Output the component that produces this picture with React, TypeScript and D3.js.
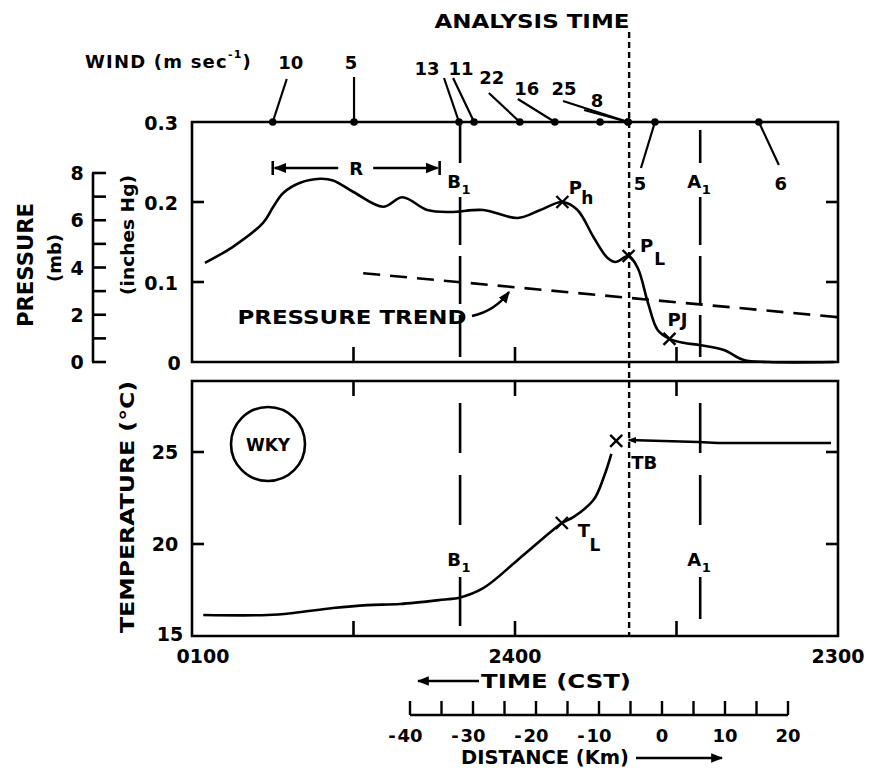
import React from 'react';
import * as d3 from 'd3';

// Time is expressed in minutes after 2300 CST; the time axis runs right (2300) to left (0100).
const timeTicks = [120, 90, 60, 30, 0];
const timeTickLabels = ['0100', '', '2400', '', '2300'];

const pressureTime = [117.6, 112.4, 106.8, 104.9, 103.1, 99.9, 96.2, 93.8, 90.0, 84.5, 80.9, 76.3, 72.0, 65.9, 59.5, 55.3, 51.2, 48.4, 45.4, 42.8, 41.3, 38.9, 37.2, 35.3, 33.5, 31.3, 28.7, 25.5, 21.2, 17.5, 13.0, 0.7];
const pressureInHg = [0.124, 0.144, 0.174, 0.194, 0.211, 0.224, 0.229, 0.227, 0.2125, 0.194, 0.206, 0.19, 0.1875, 0.19, 0.18, 0.19, 0.2, 0.19, 0.156, 0.13, 0.125, 0.1325, 0.1175, 0.074, 0.04, 0.029, 0.024, 0.021, 0.015, 0.0025, 0, 0];

const trendTime = [88.2, 0];
const trendInHg = [0.111, 0.056];

const tempTime = [117.9, 106.0, 101.2, 93.8, 87.4, 81.3, 72.6, 70.5, 65.9, 59.5, 53.4, 51.3, 49.1, 45.4, 43.5, 42.1];
const tempC = [16.14, 16.14, 16.25, 16.52, 16.68, 16.74, 17.0, 17.07, 17.6, 19.13, 20.65, 21.14, 21.47, 22.4, 23.64, 24.9];
const tbTime = [38.9, 26.0, 22.3, 1.3];
const tbTemp = [25.65, 25.54, 25.49, 25.49];

const windTime = [105.0, 89.9, 70.4, 67.6, 59.1, 52.6, 39.0, 39.0, 34.0, 14.7];
const windSpeed = [10, 5, 13, 11, 22, 16, 25, 8, 5, 6];
const windExtraTime = [44.2];

const pMarkTime = [51.2, 38.9, 31.3];
const pMarkInHg = [0.2, 0.1325, 0.029];
const pMarkName = ['P', 'P', 'PJ'];
const pMarkSub = ['h', 'L', ''];

const tMarkTime = [51.3, 41.2];
const tMarkC = [21.14, 25.6];
const tMarkName = ['T', 'TB'];
const tMarkSub = ['L', ''];

const inHgTicks = [0, 0.1, 0.2, 0.3];
const inHgLabels = ['0', '0.1', '0.2', '0.3'];
const mbTicks = [0, 1, 2, 3, 4, 5, 6, 7, 8];
const mbLabels = [0, 2, 4, 6, 8];
const tempTicks = [15, 20, 25];
const distTicks = [-40, -35, -30, -25, -20, -15, -10, -5, 0, 5, 10, 15, 20];
const distLabels = [-40, -30, -20, -10, 0, 10, 20];

const refB1 = 70.2;
const refA1 = 25.6;
const analysisTime = 38.8;
const rStart = 105.0;
const rEnd = 74.0;
const MB_TO_INHG = 0.02953;

// layout offsets for wind leaders / labels (pixels relative to dot)
const windLeader = [[14, -43], [0, -45], [-15, -44], [-21, -44], [-31, -29], [-37, -23], [-65, -21], [-44, -12], [-14, 46], [20, 43]];
const windLabelPos = [[18, -60], [-3, -60], [-32, -54], [-13, -54], [-28, -45], [-28, -34], [-64, -34], [-31, -22], [-15, 61], [22, 61]];
const pMarkLabelPos = [[[13, -15], [25, -4]], [[18, -11], [31, 3]], [[8, -19], [0, 0]]];
const tMarkLabelPos = [[[22, 7], [33, 22]], [[28, 22], [0, 0]]];

const FONT = "'DejaVu Sans', Verdana, sans-serif";
const SW = 2.6;

function Txt(props: any) {
  const { x, y, size = 18, anchor = 'middle', len, rotate, children, weight = 'bold', spacing } = props;
  return (
    <text
      x={rotate ? 0 : x}
      y={rotate ? 0 : y}
      transform={rotate ? `translate(${x},${y}) rotate(${rotate})` : undefined}
      fontFamily={FONT}
      fontWeight={weight}
      fontSize={size}
      textAnchor={anchor}
      dominantBaseline="central"
      textLength={len}
      lengthAdjust={len ? 'spacingAndGlyphs' : undefined}
      letterSpacing={spacing}
      fill="#000"
    >
      {children}
    </text>
  );
}

function XMark({ cx, cy }: { cx: number; cy: number }) {
  const s = 6;
  return (
    <path d={`M${cx - s},${cy - s}L${cx + s},${cy + s}M${cx - s},${cy + s}L${cx + s},${cy - s}`} stroke="#000" strokeWidth={2.4} fill="none" />
  );
}

export default function App() {
  const x = d3.scaleLinear().domain([120, 0]).range([192, 838]);
  const yP = d3.scaleLinear().domain([0, 0.3]).range([362, 122]);
  const yT = d3.scaleLinear().domain([15, 25]).range([636, 452]);
  const xD = d3.scaleLinear().domain([-40, 20]).range([410, 788]);

  const L = x(120), R = x(0);
  const pTop = yP(0.3), pBot = yP(0);
  const tTop = yT(28.86), tBot = yT(15);

  const pLine = d3.line<number>()
    .x((_, i) => x(pressureTime[i]))
    .y(d => yP(d))
    .curve(d3.curveCatmullRom.alpha(0.5));
  const tLine = d3.line<number>()
    .x((_, i) => x(tempTime[i]))
    .y(d => yT(d))
    .curve(d3.curveCatmullRom.alpha(0.5));
  const tbLine = d3.line<number>()
    .x((_, i) => x(tbTime[i]))
    .y(d => yT(d))
    .curve(d3.curveLinear);

  const innerTimeTicks = timeTicks.filter(t => t > 0 && t < 120);
  const xB1 = x(refB1), xA1 = x(refA1), xAn = x(analysisTime);
  const xr1 = x(rStart), xr2 = x(rEnd), rMid = (xr1 + xr2) / 2, rY = 168;

  return (
    <svg width={873} height={773} style={{ position: 'absolute', left: 0, top: 0, background: '#fff' }}>
      <defs>
        <marker id="ah" viewBox="0 0 10 10" refX="9" refY="5" markerWidth="5" markerHeight="5" orient="auto-start-reverse" markerUnits="strokeWidth">
          <path d="M0,1L10,5L0,9Z" fill="#000" />
        </marker>
        <marker id="ahs" viewBox="0 0 10 10" refX="9" refY="5" markerWidth="3.5" markerHeight="3.5" orient="auto-start-reverse" markerUnits="strokeWidth">
          <path d="M0,1L10,5L0,9Z" fill="#000" />
        </marker>
      </defs>
      <rect x={0} y={0} width={873} height={773} fill="#fff" />

      {/* Analysis time */}
      <Txt x={532} y={21} size={19} len={195}>ANALYSIS TIME</Txt>
      <line x1={xAn} x2={xAn} y1={32} y2={tBot} stroke="#000" strokeWidth={2.4} strokeDasharray="6,4" />

      {/* Wind */}
      <text x={85} y={61} fontFamily={FONT} fontWeight="bold" fontSize={18} dominantBaseline="central" letterSpacing={1.2}>
        WIND (m sec<tspan fontSize={11} dy={-7}>-1</tspan><tspan dy={7}>)</tspan>
      </text>
      {windTime.map((t, i) => (
        <g key={'w' + i}>
          <line x1={x(t)} y1={pTop} x2={x(t) + windLeader[i][0]} y2={pTop + windLeader[i][1]} stroke="#000" strokeWidth={2.2} />
          <Txt x={x(t) + windLabelPos[i][0]} y={pTop + windLabelPos[i][1]} size={18}>{String(windSpeed[i])}</Txt>
        </g>
      ))}
      {[...windTime, ...windExtraTime].map((t, i) => (
        <circle key={'wd' + i} cx={x(t)} cy={pTop} r={3.8} fill="#000" />
      ))}

      {/* Pressure panel frame */}
      <path d={`M${L},${pTop}H${R}V${pBot}H${L}Z`} fill="none" stroke="#000" strokeWidth={SW} />
      {inHgTicks.filter(v => v > 0 && v < 0.3).map(v => (
        <g key={'it' + v}>
          <line x1={L} x2={L + 12} y1={yP(v)} y2={yP(v)} stroke="#000" strokeWidth={SW} />
          <line x1={R} x2={R - 12} y1={yP(v)} y2={yP(v)} stroke="#000" strokeWidth={SW} />
        </g>
      ))}
      {inHgTicks.map((v, i) => (
        <Txt key={'il' + v} x={v === 0 ? 174 : 178} y={yP(v) + 1} size={19} anchor={v === 0 ? 'middle' : 'end'}>{inHgLabels[i]}</Txt>
      ))}
      {innerTimeTicks.map(t => (
        <line key={'pb' + t} x1={x(t)} x2={x(t)} y1={pBot} y2={pBot - 15} stroke="#000" strokeWidth={SW} />
      ))}

      {/* mb axis */}
      <line x1={93} x2={93} y1={yP(8 * MB_TO_INHG)} y2={yP(0)} stroke="#000" strokeWidth={SW} />
      {mbTicks.map(m => (
        <line key={'mt' + m} x1={92} x2={106} y1={yP(m * MB_TO_INHG)} y2={yP(m * MB_TO_INHG)} stroke="#000" strokeWidth={SW} />
      ))}
      {mbLabels.map(m => (
        <Txt key={'ml' + m} x={77} y={yP(m * MB_TO_INHG)} size={19}>{String(m)}</Txt>
      ))}
      <Txt x={25} y={265} size={22} rotate={-90} len={124}>PRESSURE</Txt>
      <Txt x={54} y={258} size={18} rotate={-90}>(mb)</Txt>
      <Txt x={127} y={235} size={18} rotate={-90} len={120}>(inches Hg)</Txt>

      {/* R bracket */}
      <line x1={xr1} x2={xr1} y1={rY - 7} y2={rY + 7} stroke="#000" strokeWidth={SW} />
      <line x1={xr2} x2={xr2} y1={rY - 7} y2={rY + 7} stroke="#000" strokeWidth={SW} />
      <line x1={rMid - 18} x2={xr1 + 2} y1={rY} y2={rY} stroke="#000" strokeWidth={SW} markerEnd="url(#ah)" />
      <line x1={rMid + 17} x2={xr2 - 2} y1={rY} y2={rY} stroke="#000" strokeWidth={SW} markerEnd="url(#ah)" />
      <Txt x={rMid} y={rY} size={18}>R</Txt>

      {/* B1 / A1 in pressure panel */}
      <line x1={xB1} x2={xB1} y1={pTop + 3} y2={163} stroke="#000" strokeWidth={SW} />
      <line x1={xA1} x2={xA1} y1={pTop + 8} y2={163} stroke="#000" strokeWidth={SW} />
      {[xB1, xA1].map((xx, i) => (
        <g key={'pr' + i}>
          <line x1={xx} x2={xx} y1={197} y2={357} stroke="#000" strokeWidth={SW} strokeDasharray="48,11" />
          <Txt x={xx - 6} y={181} size={18}>{i === 0 ? 'B' : 'A'}</Txt>
          <Txt x={xx + 6} y={189} size={13}>1</Txt>
        </g>
      ))}

      {/* Pressure trend */}
      <line x1={x(trendTime[0])} y1={yP(trendInHg[0])} x2={x(trendTime[1])} y2={yP(trendInHg[1])} stroke="#000" strokeWidth={SW} strokeDasharray="17,10" />
      <Txt x={352} y={317} size={20} len={229}>PRESSURE TREND</Txt>
      <path d="M472,316 Q495,311 509,292" fill="none" stroke="#000" strokeWidth={2.4} markerEnd="url(#ah)" />

      {/* Pressure curve */}
      <path d={pLine(pressureInHg) || ''} fill="none" stroke="#000" strokeWidth={SW} />
      {pMarkTime.map((t, i) => {
        const cx = x(t), cy = yP(pMarkInHg[i]);
        const lp = pMarkLabelPos[i];
        return (
          <g key={'pm' + i}>
            <XMark cx={cx} cy={cy} />
            <Txt x={cx + lp[0][0]} y={cy + lp[0][1]} size={18}>{pMarkName[i]}</Txt>
            {pMarkSub[i] && <Txt x={cx + lp[1][0]} y={cy + lp[1][1]} size={17}>{pMarkSub[i]}</Txt>}
          </g>
        );
      })}

      {/* Temperature panel */}
      <path d={`M${L},${tTop}H${R}V${tBot}H${L}Z`} fill="none" stroke="#000" strokeWidth={SW} />
      {tempTicks.filter(v => v > 15).map(v => (
        <g key={'tt' + v}>
          <line x1={L} x2={L + 12} y1={yT(v)} y2={yT(v)} stroke="#000" strokeWidth={SW} />
          <line x1={R} x2={R - 12} y1={yT(v)} y2={yT(v)} stroke="#000" strokeWidth={SW} />
        </g>
      ))}
      {tempTicks.map(v => (
        <Txt key={'tl' + v} x={v === 15 ? 170 : 165} y={v === 15 ? yT(v) - 2 : yT(v)} size={19}>{String(v)}</Txt>
      ))}
      {innerTimeTicks.map(t => (
        <g key={'tb' + t}>
          <line x1={x(t)} x2={x(t)} y1={tBot} y2={tBot - 15} stroke="#000" strokeWidth={SW} />
          <line x1={x(t)} x2={x(t)} y1={tTop} y2={tTop + 15} stroke="#000" strokeWidth={SW} />
        </g>
      ))}
      <Txt x={127} y={507} size={20} rotate={-90} len={252}>TEMPERATURE (°C)</Txt>

      {[xB1, xA1].map((xx, i) => (
        <g key={'tr' + i}>
          <line x1={xx} x2={xx} y1={403} y2={527} stroke="#000" strokeWidth={SW} strokeDasharray="50,22" />
          <line x1={xx} x2={xx} y1={577} y2={i === 0 ? 626 : 619} stroke="#000" strokeWidth={SW} />
          <Txt x={xx - 6} y={559} size={18}>{i === 0 ? 'B' : 'A'}</Txt>
          <Txt x={xx + 6} y={567} size={13}>1</Txt>
        </g>
      ))}

      <circle cx={268} cy={444} r={37} fill="none" stroke="#000" strokeWidth={SW} />
      <Txt x={268} y={445} size={17}>WKY</Txt>

      <path d={tLine(tempC) || ''} fill="none" stroke="#000" strokeWidth={SW} />
      <path d={tbLine(tbTemp) || ''} fill="none" stroke="#000" strokeWidth={2.4} markerStart="url(#ahs)" />
      {tMarkTime.map((t, i) => {
        const cx = x(t), cy = yT(tMarkC[i]);
        const lp = tMarkLabelPos[i];
        return (
          <g key={'tm' + i}>
            <XMark cx={cx} cy={cy} />
            <Txt x={cx + lp[0][0]} y={cy + lp[0][1]} size={18}>{tMarkName[i]}</Txt>
            {tMarkSub[i] && <Txt x={cx + lp[1][0]} y={cy + lp[1][1]} size={17}>{tMarkSub[i]}</Txt>}
          </g>
        );
      })}

      {/* Time axis labels */}
      {timeTicks.map((t, i) => timeTickLabels[i] ? (
        <Txt key={'tx' + t} x={t === 120 ? 203 : x(t)} y={656} size={19}>{timeTickLabels[i]}</Txt>
      ) : null)}
      <line x1={479} x2={418} y1={681} y2={681} stroke="#000" strokeWidth={2.4} markerEnd="url(#ah)" />
      <Txt x={556} y={681} size={19} len={150}>TIME (CST)</Txt>

      {/* Distance axis */}
      <line x1={xD(-40)} x2={xD(20)} y1={715} y2={715} stroke="#000" strokeWidth={SW} />
      {distTicks.map(d => (
        <line key={'dt' + d} x1={xD(d)} x2={xD(d)} y1={715} y2={701} stroke="#000" strokeWidth={2.4} />
      ))}
      {distLabels.map(d => (
        <g key={'dl' + d}>
          <Txt x={xD(d)} y={735} size={18}>{String(Math.abs(d))}</Txt>
          {d < 0 && <Txt x={xD(d) - 18} y={735} size={18}>-</Txt>}
        </g>
      ))}
      <Txt x={545} y={757} size={19} len={168}>DISTANCE (Km)</Txt>
      <line x1={636} x2={722} y1={758} y2={758} stroke="#000" strokeWidth={2.4} markerEnd="url(#ah)" />
    </svg>
  );
}
